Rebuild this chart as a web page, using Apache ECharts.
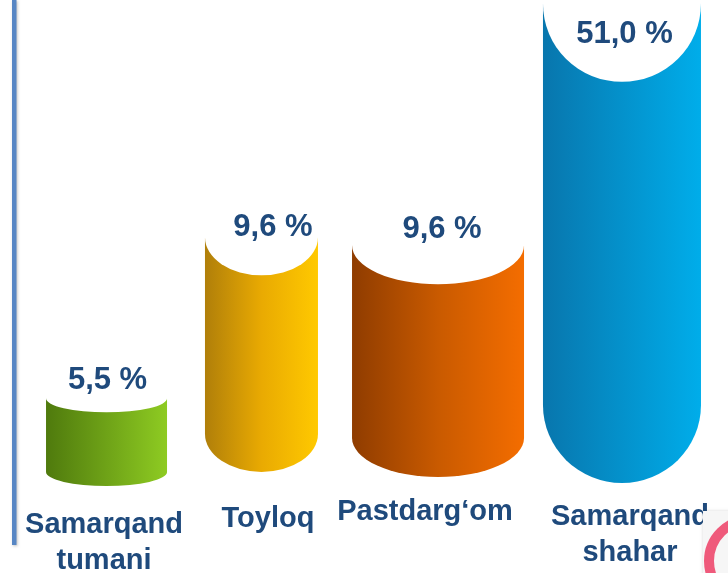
<!DOCTYPE html>
<html><head><meta charset="utf-8">
<script src="https://cdn.jsdelivr.net/npm/echarts@6/dist/echarts.min.js"></script>
<style>html,body{margin:0;padding:0;background:#fff}#c{width:728px;height:573px}</style>
</head><body><div id="c"></div>
<script>
// ---- data ----
const categories = ['Samarqand\ntumani', 'Toyloq', 'Pastdarg‘om', 'Samarqand\nshahar'];
const values = [5.5, 9.6, 9.6, 51.0];
const valueLabels = values.map(v => v.toFixed(1).replace('.', ',') + ' %');

// ---- styling (sizes / offsets / colours) ----
const BASE_VALUE = 3.4;
const barWidths = [121, 113, 172, 158];
const capRy = [14, 38, 39, 78];
const barShiftX = [8.4, -8.9, -4.6, 7.1];
const topShiftY = [0, -4, 4, 0];
const baseShiftY = [7.2, -6.8, -1.8, 4.2];
const valueLabelOffset = [[1, -17.5], [11.5, -10], [4, -16], [2.5, 31]];
const catLabelOffsetX = [-2.5, 6.5, -13, 8];
const catLabelTop = [507.5, 501.5, 494.5, 499.5];
const TEXT_COLOR = '#1f4a7c';
const FONT = '"Liberation Sans", Arial, sans-serif';
const gradients = [
  [0, 0, 1, 0, [{offset: 0, color: '#4f7a0d'}, {offset: 1, color: '#8ecb22'}]],
  [0, 0, 1, 0, [{offset: 0, color: '#b07f0a'}, {offset: 0.5, color: '#e9aa02'}, {offset: 1, color: '#ffc900'}]],
  [0, 0, 1, 0, [{offset: 0, color: '#8f3c00'}, {offset: 0.5, color: '#c95a00'}, {offset: 1, color: '#f46d00'}]],
  [0, 0, 1, 0, [{offset: 0, color: '#0876ad'}, {offset: 1, color: '#00adea'}]]
];

const chart = echarts.init(document.getElementById('c'), null, {renderer: 'canvas'});

function renderItem(params, api) {
  const i = params.dataIndex;
  const top = api.coord([i, api.value(1)]);
  const base = api.coord([i, BASE_VALUE]);
  const cx = top[0] + barShiftX[i];
  const w = barWidths[i], rx = w / 2, ry = capRy[i];
  const ty = top[1] + topShiftY[i];
  const by = base[1] + baseShiftY[i] - ry;
  const l = cx - rx, r = cx + rx;
  const g = gradients[i];
  const body = `M${l},${ty} L${l},${by} A${rx},${ry} 0 0 0 ${r},${by} L${r},${ty} Z`;
  const cap = `M${l},${ty} A${rx},${ry} 0 0 0 ${r},${ty} A${rx},${ry} 0 0 0 ${l},${ty} Z`;
  const lo = valueLabelOffset[i];
  return {
    type: 'group',
    children: [
      {type: 'path', shape: {pathData: body},
       style: {fill: new echarts.graphic.LinearGradient(g[0], g[1], g[2], g[3], g[4])}},
      {type: 'path', shape: {pathData: cap}, style: {fill: '#ffffff'}},
      {type: 'text', style: {
        text: valueLabels[i], x: cx + lo[0], y: ty + lo[1],
        align: 'center', verticalAlign: 'middle',
        font: 'bold 31px ' + FONT, fill: TEXT_COLOR }},
      {type: 'text', style: {
        text: categories[i], x: cx + catLabelOffsetX[i], y: catLabelTop[i],
        align: 'center', verticalAlign: 'top', lineHeight: 35.5,
        font: 'bold 29px ' + FONT, fill: TEXT_COLOR }}
    ]
  };
}

chart.setOption({
  backgroundColor: '#ffffff',
  animation: false,
  grid: {left: 12, right: 27, top: 0, bottom: 40.6},
  xAxis: {type: 'category', data: categories, show: false},
  yAxis: {
    type: 'value', min: 2, max: 51.1, show: false,
    breaks: [{start: 12, end: 47.2, gap: 0}],
    breakArea: {show: false}
  },
  series: [{
    type: 'custom',
    renderItem: renderItem,
    clip: false,
    data: values.map((v, i) => [i, v])
  }],
  graphic: [
    {type: 'rect', left: 12, top: 0, z: 10,
     shape: {x: 0, y: 0, width: 4.5, height: 545},
     style: {fill: '#5786c4', shadowColor: 'rgba(0,0,0,0.25)', shadowBlur: 3, shadowOffsetX: 1, shadowOffsetY: 1}},
    {type: 'rect', z: 20, shape: {x: 703, y: 511, width: 30, height: 70},
     style: {fill: '#f6f6f6', shadowColor: 'rgba(0,0,0,0.15)', shadowBlur: 3}},
    {type: 'circle', z: 21, shape: {cx: 750, cy: 561, r: 41},
     style: {fill: 'none', stroke: '#ef5a7b', lineWidth: 10}}
  ]
});
</script></body></html>
